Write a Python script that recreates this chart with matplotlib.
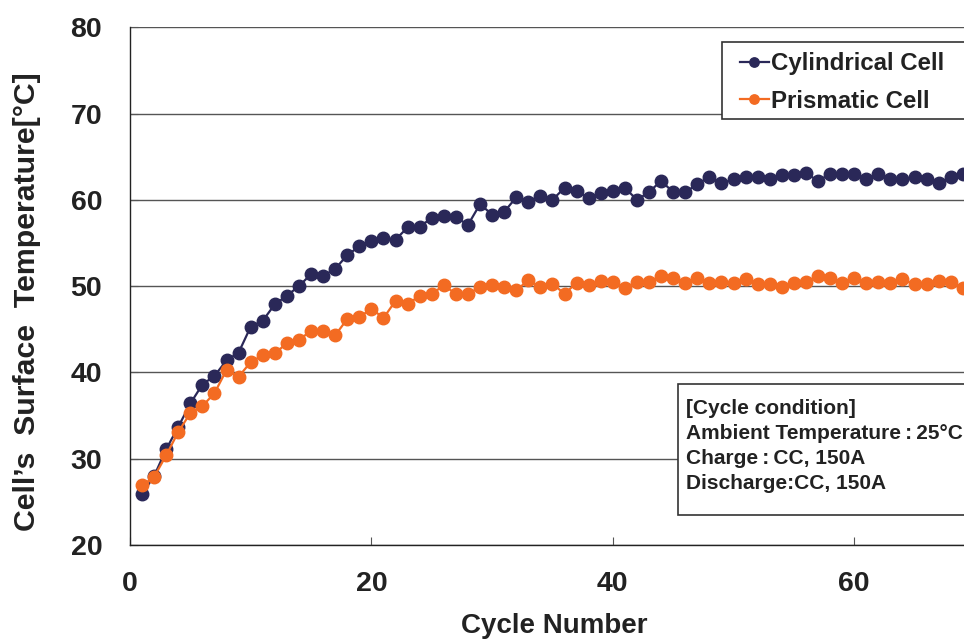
import matplotlib
matplotlib.use("Agg")
import matplotlib.pyplot as plt
from matplotlib.patches import Rectangle

# cycle number vs surface temperature
cycles = list(range(1, 70))
cylindrical = [
    25.9, 28.0, 31.1, 33.7, 36.4, 38.6, 39.6, 41.4, 42.3, 45.3,
    46.0, 47.9, 48.9, 50.0, 51.4, 51.2, 52.0, 53.6, 54.6, 55.2,
    55.6, 55.4, 56.8, 56.9, 57.9, 58.1, 58.0, 57.1, 59.5, 58.3,
    58.6, 60.3, 59.8, 60.5, 60.0, 61.4, 61.0, 60.2, 60.8, 61.0,
    61.4, 60.0, 60.9, 62.2, 60.9, 60.9, 61.8, 62.7, 61.9, 62.4,
    62.6, 62.6, 62.4, 62.9, 62.9, 63.1, 62.2, 63.0, 63.0, 63.0,
    62.4, 63.0, 62.4, 62.4, 62.6, 62.4, 62.0, 62.6, 63.0,
]
prismatic = [
    26.9, 27.9, 30.4, 33.1, 35.3, 36.1, 37.6, 40.3, 39.5, 41.2,
    42.0, 42.2, 43.4, 43.8, 44.8, 44.8, 44.3, 46.2, 46.4, 47.4,
    46.3, 48.3, 47.9, 48.9, 49.1, 50.1, 49.1, 49.1, 49.9, 50.1,
    49.9, 49.5, 50.7, 49.9, 50.3, 49.1, 50.4, 50.1, 50.6, 50.5,
    49.8, 50.5, 50.5, 51.2, 51.0, 50.4, 51.0, 50.4, 50.5, 50.4,
    50.8, 50.2, 50.2, 49.9, 50.4, 50.5, 51.2, 51.0, 50.4, 51.0,
    50.4, 50.5, 50.4, 50.8, 50.2, 50.2, 50.6, 50.5, 49.8,
]
series_names = ["Cylindrical Cell", "Prismatic Cell"]
x_ticks = [0, 20, 40, 60]
y_ticks = [20, 30, 40, 50, 60, 70, 80]
conditions = [
    "[Cycle condition]",
    "Ambient Temperature\u2009:\u200925\u00b0C",
    "Charge\u2009:\u2009CC, 150A",
    "Discharge:CC, 150A",
]

navy = "#2a2858"
orange = "#f36b22"

plt.rcParams["font.family"] = ["Liberation Sans", "DejaVu Sans"]
plt.rcParams["font.weight"] = "bold"

W, H = 964, 639
fig = plt.figure(figsize=(W / 100, H / 100), dpi=100)


def fx(px):
    return px / W


def fy(py):
    return 1 - py / H


left, right, top, bottom = 130, 964, 27.3, 545
ax = fig.add_axes([fx(left), fy(bottom), fx(right - left), fy(top) - fy(bottom)])

ax.plot(cycles, cylindrical, color=navy, lw=1.6, marker="o", ms=9,
        label=series_names[0], zorder=3)
ax.plot(cycles, prismatic, color=orange, lw=1.6, marker="o", ms=9,
        label=series_names[1], zorder=4)

ax.set_xlim(0, (right - left) / 12.07)
ax.set_ylim(20, 80)
ax.set_xticks(x_ticks)
ax.set_yticks(y_ticks)
ax.grid(axis="y", color="#555555", lw=1.0)
ax.set_axisbelow(True)

for side in ["top", "right"]:
    ax.spines[side].set_visible(False)
for side in ["left", "bottom"]:
    ax.spines[side].set_color("#222222")
    ax.spines[side].set_linewidth(1.0)

ax.tick_params(axis="both", direction="in", length=6, color="#555555",
               labelsize=20.5)
ax.tick_params(axis="y", pad=20)
ax.tick_params(axis="x", pad=18.5)
for lab in ax.get_xticklabels() + ax.get_yticklabels():
    lab.set_fontweight("bold")
    lab.set_color("#222222")

fig.text(fx(554), fy(613), "Cycle Number", ha="center", va="top",
         fontsize=20, fontweight="bold", color="#222222")
fig.text(fx(27.5), fy(302), "Cell\u2019s  Surface  Temperature[\u00b0C]",
         rotation=90, ha="center", va="center", fontsize=21.8,
         fontweight="bold", color="#222222")

# legend box
leg = fig.legend(loc="upper left", bbox_to_anchor=(fx(740), fy(52)),
                 frameon=False, fontsize=17.3, handlelength=1.2,
                 handletextpad=0.1, labelspacing=0.62, borderpad=0,
                 borderaxespad=0, markerscale=0.75)
for t in leg.get_texts():
    t.set_fontweight("bold")
    t.set_color("#222222")
fig.add_artist(Rectangle((fx(722), fy(119)), fx(980 - 722), fy(41.7) - fy(119),
                         transform=fig.transFigure, fill=True, facecolor="white",
                         edgecolor="#333333", lw=1.2, zorder=1))
leg.set_zorder(2)

# cycle condition box
fig.add_artist(Rectangle((fx(678), fy(515)), fx(980 - 678), fy(384) - fy(515),
                         transform=fig.transFigure, facecolor="white",
                         edgecolor="#333333", lw=1.2, zorder=1))
for i, line in enumerate(conditions):
    fig.text(fx(686), fy(408 + i * 25.3), line, ha="left", va="center",
             fontsize=15, fontweight="bold", color="#222222", zorder=2)

fig.savefig("out.png", dpi=100)
